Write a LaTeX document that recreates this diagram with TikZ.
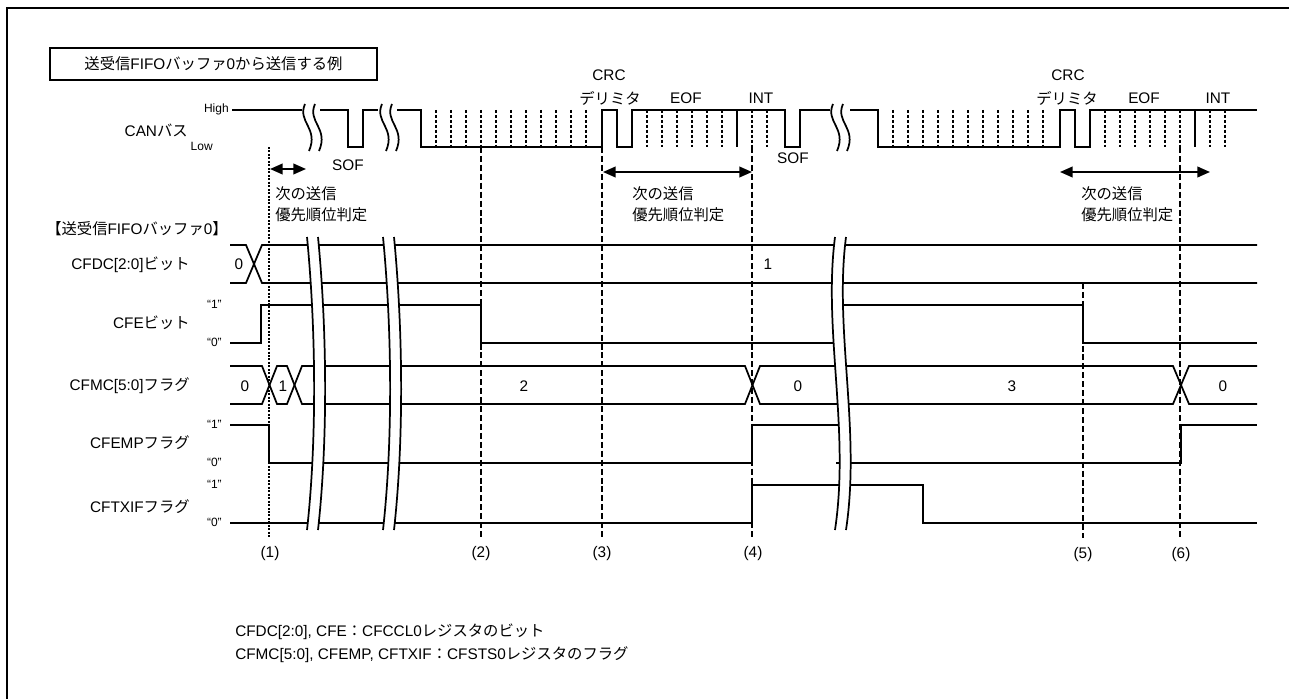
\documentclass[tikz,border=0pt]{standalone}
\usepackage{fontspec}
\setmainfont{Liberation Sans}
\newfontfamily\jpfont{Noto Sans CJK JP}
\newcommand\JPx[1]{{\jpfont #1}}
\usetikzlibrary{arrows.meta}
\begin{document}
\begin{tikzpicture}[x=0.75pt,y=-0.75pt,
  sig/.style={line width=1.3pt, line join=miter},
  sepline/.style={line width=1.6pt, dash pattern=on 2.2pt off 1.5pt},
  dotline/.style={line width=2pt, dash pattern=on 1.5pt off 1.1pt},
  dashline/.style={line width=1.8pt, dash pattern=on 4.5pt off 2.2pt},
  lbl/.style={font=\fontsize{11.5}{13}\selectfont, inner sep=0pt},
  sm/.style={font=\fontsize{9}{10}\selectfont, inner sep=0pt},
  dbl/.style={line width=1.4pt, {Triangle[length=9.5pt,width=8pt]}-{Triangle[length=9.5pt,width=8pt]}},
  brk/.style={line width=1.3pt},
]
\useasboundingbox (0,0) rectangle (1289,699);
% frame
\draw[line width=1.9pt] (7,699) -- (7,8) -- (1289,8);
% title
\draw[line width=1pt] (50,48) rectangle (377,80);
\node[lbl] (title) at (213.5,64) {\JPx{送受信}FIFO\JPx{バッファ}0\JPx{から送信する例}};

% ---------- CAN bus ----------
\node[lbl,anchor=east] (canlbl) at (188,130) {CAN\JPx{バス}};
\node[sm,anchor=east] (high) at (229,109) {High};
\node[sm,anchor=east] (low) at (213,146) {Low};
\draw[sig] (232,110) -- (302,110);
\draw[sig] (320,110) -- (348,110) -- (348,147) -- (363,147) -- (363,110) -- (378,110);
\draw[sig] (397,110) -- (421,110) -- (421,147) -- (602,147) -- (602,110) -- (617,110) -- (617,147) -- (632,147) -- (632,110) -- (785,110) -- (785,147) -- (800,147) -- (800,110) -- (830,110);
\draw[sig] (850,110) -- (878,110) -- (878,147) -- (1060,147) -- (1060,110) -- (1075,110) -- (1075,147) -- (1090,147) -- (1090,110) -- (1257,110);
\foreach \x in {305,315,382,392,833,843}
  \draw[sig] (\x,104) .. controls ({\x-8},122) and ({\x+14},128) .. ({\x+4},151);
\foreach \x in {436,451,...,586, 893,908,...,1043, 647,662,...,722, 767, 1105,1120,...,1180, 1210,1225}
  \draw[sepline] (\x,110) -- (\x,147);
\draw[sepline] (752,110) -- (752,147);
\draw[sig] (737,110) -- (737,147);
\draw[sig] (1195,110) -- (1195,147);

\node[lbl] (sof1) at (348,165) {SOF};
\node[lbl] (sof2) at (793,158) {SOF};
\node[lbl] (crc1) at (609,75) {CRC};
\node[lbl] (del1) at (610,98) {\JPx{デリミタ}};
\node[lbl] (eof1) at (686,98) {EOF};
\node[lbl] (int1) at (761,98) {INT};
\node[lbl] (crc2) at (1068,75) {CRC};
\node[lbl] (del2) at (1067,98) {\JPx{デリミタ}};
\node[lbl] (eof2) at (1144,98) {EOF};
\node[lbl] (int2) at (1218,98) {INT};

% arrows
\coordinate (a1s) at (270,169); \coordinate (a1e) at (306,169);
\coordinate (a2s) at (603,172); \coordinate (a2e) at (752,172);
\coordinate (a3s) at (1060,172); \coordinate (a3e) at (1210,172);
\draw[dbl] (a1s) -- (a1e);
\draw[dbl] (a2s) -- (a2e);
\draw[dbl] (a3s) -- (a3e);
\node[lbl,anchor=west] (p1a) at (275,194) {\JPx{次の送信}};
\node[lbl,anchor=west] (p1b) at (275,215) {\JPx{優先順位判定}};
\node[lbl,anchor=west] (p2a) at (632,194) {\JPx{次の送信}};
\node[lbl,anchor=west] (p2b) at (632,215) {\JPx{優先順位判定}};
\node[lbl,anchor=west] (p3a) at (1081,194) {\JPx{次の送信}};
\node[lbl,anchor=west] (p3b) at (1081,215) {\JPx{優先順位判定}};

% ---------- register signals ----------
\node[lbl,anchor=west] (buf) at (46,229) {\JPx{【送受信}FIFO\JPx{バッファ}0\JPx{】}};
\node[lbl,anchor=east] (l1) at (190,265) {CFDC[2:0]\JPx{ビット}};
\node[lbl,anchor=east] (l2) at (190,323) {CFE\JPx{ビット}};
\node[lbl,anchor=east] (l3) at (190,386) {CFMC[5:0]\JPx{フラグ}};
\node[lbl,anchor=east] (l4) at (190,443) {CFEMP\JPx{フラグ}};
\node[lbl,anchor=east] (l5) at (190,507) {CFTXIF\JPx{フラグ}};
\node[sm,anchor=east] (q21) at (222,304) {“1”};
\node[sm,anchor=east] (q20) at (222,342) {“0”};
\node[sm,anchor=east] (q41) at (222,424) {“1”};
\node[sm,anchor=east] (q40) at (222,462) {“0”};
\node[sm,anchor=east] (q51) at (222,484) {“1”};
\node[sm,anchor=east] (q50) at (222,522) {“0”};

% CFDC
\draw[sig] (230,245) -- (246,245) -- (262,283) -- (1257,283);
\draw[sig] (230,283) -- (246,283) -- (262,245) -- (1257,245);
\node[lbl] (v10) at (239,264) {0};
\node[lbl] (v11) at (768,264) {1};
% CFE
\draw[sig] (230,343) -- (261,343) -- (261,305) -- (481,305) -- (481,343) -- (841,343);
\draw[sig] (838,305) -- (1083,305) -- (1083,343) -- (1257,343);
% CFMC
\draw[sig] (230,366) -- (262,366) -- (277,404) -- (287,404) -- (302,366) -- (745,366) -- (760,404) -- (1173,404) -- (1189,366) -- (1257,366);
\draw[sig] (230,404) -- (262,404) -- (277,366) -- (287,366) -- (302,404) -- (745,404) -- (760,366) -- (1173,366) -- (1189,404) -- (1257,404);
\node[lbl] (v30) at (245,386) {0};
\node[lbl] (v31) at (283,386) {1};
\node[lbl] (v32) at (524,386) {2};
\node[lbl] (v33) at (798,386) {0};
\node[lbl] (v34) at (1012,386) {3};
\node[lbl] (v35) at (1223,386) {0};
% CFEMP
\draw[sig] (230,425) -- (269,425) -- (269,463) -- (752,463) -- (752,425) -- (843,425);
\draw[sig] (836,463) -- (1181,463) -- (1181,425) -- (1257,425);
% CFTXIF
\draw[sig] (230,523) -- (752,523) -- (752,485) -- (923,485) -- (923,523) -- (1257,523);

% breaks
\fill[white] (307,237) .. controls (316,330) and (317,440) .. (307,530) -- (318,530) .. controls (328,440) and (327,330) .. (318,237) -- cycle;
\draw[brk] (307,237) .. controls (316,330) and (317,440) .. (307,530);
\draw[brk] (318,237) .. controls (327,330) and (328,440) .. (318,530);
\fill[white] (383,237) .. controls (392,330) and (393,440) .. (383,530) -- (394,530) .. controls (404,440) and (403,330) .. (394,237) -- cycle;
\draw[brk] (383,237) .. controls (392,330) and (393,440) .. (383,530);
\draw[brk] (394,237) .. controls (403,330) and (404,440) .. (394,530);
\fill[white] (835,237) .. controls (823,330) and (850,430) .. (835,530) -- (846,530) .. controls (861,430) and (834,330) .. (846,237) -- cycle;
\draw[brk] (835,237) .. controls (823,330) and (850,430) .. (835,530);
\draw[brk] (846,237) .. controls (834,330) and (861,430) .. (846,530);

% marker lines
\draw[dotline] (269,147) -- (269,537);
\draw[dashline] (481,147) -- (481,537);
\draw[dashline] (602,147) -- (602,537);
\draw[dashline] (752,147) -- (752,537);
\draw[dashline] (1083,283) -- (1083,538);
\draw[dashline] (1180,147) -- (1180,538);
\node[lbl] (m1) at (270,554) {(1)};
\node[lbl] (m2) at (481,554) {(2)};
\node[lbl] (m3) at (602,554) {(3)};
\node[lbl] (m4) at (753,554) {(4)};
\node[lbl] (m5) at (1083,555) {(5)};
\node[lbl] (m6) at (1181,555) {(6)};

% notes
\node[lbl,anchor=west] (note1) at (235,632) {CFDC[2:0], CFE\JPx{：}CFCCL0\JPx{レジスタのビット}};
\node[lbl,anchor=west] (note2) at (235,655) {CFMC[5:0], CFEMP, CFTXIF\JPx{：}CFSTS0\JPx{レジスタのフラグ}};
\end{tikzpicture}
\end{document}
